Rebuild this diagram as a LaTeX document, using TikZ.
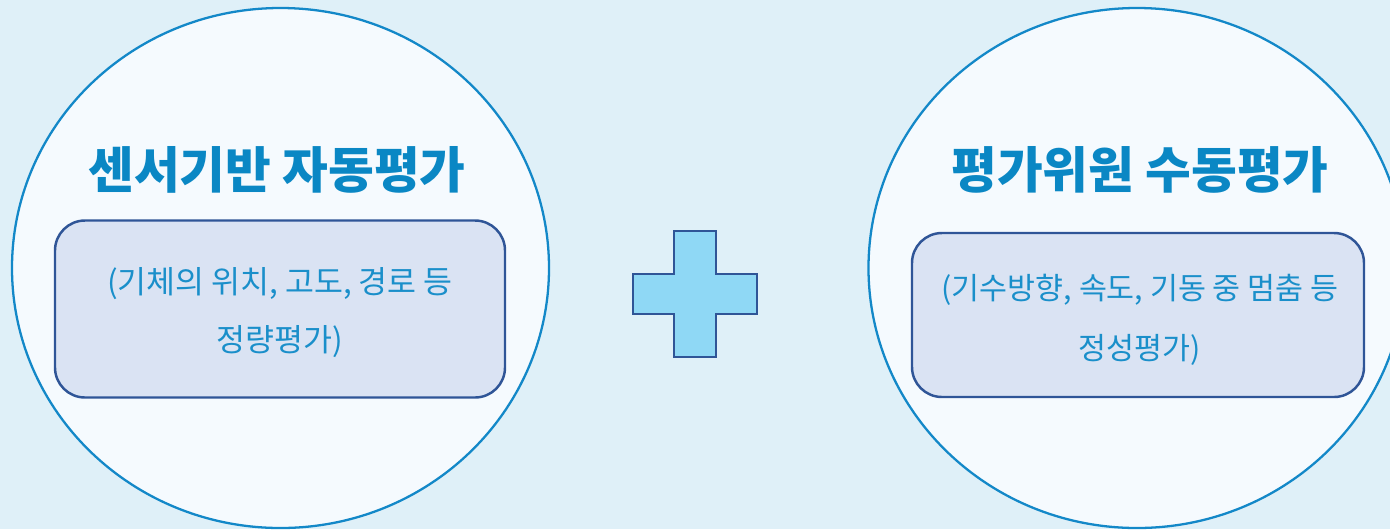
\documentclass[tikz,border=0pt]{standalone}
\usepackage{fontspec}
\newfontfamily\kr{Noto Sans CJK KR}
\definecolor{bgc}{HTML}{DFF0F8}
\definecolor{circfill}{HTML}{F5FAFE}
\definecolor{circline}{HTML}{1388C8}
\definecolor{titlec}{HTML}{0A87C4}
\definecolor{boxfill}{HTML}{DAE3F3}
\definecolor{boxline}{HTML}{2F5597}
\definecolor{textc}{HTML}{1A8FCA}
\definecolor{plusfill}{HTML}{8FD8F5}
\tikzset{
  circ/.style={ellipse, draw=circline, fill=circfill, line width=1.3pt, minimum width=537*0.02cm, minimum height=520*0.02cm, inner sep=0pt},
  titletext/.style={font=\kr\bfseries\fontsize{28.3}{32}\selectfont, text=titlec},
  bodybox/.style={draw=boxline, fill=boxfill, line width=1.4pt, rounded corners=0.6cm, inner sep=0pt},
  bodytext/.style={font=\kr\fontsize{17.9}{33}\selectfont, text=textc, align=center},
  plusshape/.style={draw=boxline, fill=plusfill, line width=1.4pt}
}
\usetikzlibrary{shapes.geometric}
\begin{document}
\begin{tikzpicture}[x=0.02cm,y=-0.02cm]
\fill[bgc] (0,0) rectangle (1390,529);
\useasboundingbox (0,0) rectangle (1390,529);
\begin{scope}
\clip (0,0) rectangle (1390,529);
\node[circ] (lc) at (280.5,268) {};
\node[circ] (rc) at (1137,268) {};
\end{scope}
\node[titletext] (lt) at (277,170) {센서기반 자동평가};
\node[titletext] (rt) at (1140,170) {평가위원 수동평가};
\node[bodybox, minimum width=450*0.02cm, minimum height=177*0.02cm] (lb) at (280,309) {};
\node[bodybox, minimum width=452*0.02cm, minimum height=164*0.02cm] (rb) at (1138,315) {};
\node[bodytext] (ltx) at (280,313) {(기체의 위치, 고도, 경로 등\\정량평가)};
\node[bodytext, font=\kr\fontsize{17.3}{34}\selectfont] (rtx) at (1140,320) {(기수방향, 속도, 기동 중 멈춤 등\\정성평가)};
\draw[plusshape] (674,231) -- (716,231) -- (716,274) -- (757,274) -- (757,314) -- (716,314) -- (716,357) -- (674,357) -- (674,314) -- (633,314) -- (633,274) -- (674,274) -- cycle;
\end{tikzpicture}
\end{document}
